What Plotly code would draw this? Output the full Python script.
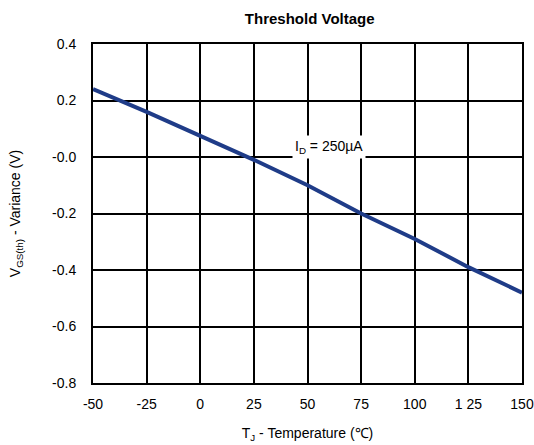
import plotly.graph_objects as go

temps = [-50, -25, 0, 25, 50, 75, 100, 125, 150]
vgs_var = [0.24, 0.16, 0.075, -0.01, -0.10, -0.20, -0.29, -0.39, -0.48]
x_ticks = [-50, -25, 0, 25, 50, 75, 100, 125, 150]
x_labels = ["-50", "-25", "0", "25", "50", "75", "100", "1 25", "150"]
y_ticks = [0.4, 0.2, 0.0, -0.2, -0.4, -0.6, -0.8]
y_labels = ["0.4", "0.2", "-0.0", "-0.2", "-0.4", "-0.6", "-0.8"]

font = "Liberation Sans, Arial, sans-serif"

fig = go.Figure()
fig.add_trace(go.Scatter(x=temps, y=vgs_var, mode="lines",
                         line=dict(color="#1f3c88", width=4), showlegend=False))

fig.add_annotation(x=60, y=0.035, text="I<sub>D</sub> = 250µA", showarrow=False,
                   font=dict(family=font, size=14, color="black"),
                   bgcolor="white", borderpad=2)

fig.update_layout(
    width=534, height=445,
    margin=dict(l=93, r=12, t=44, b=62, autoexpand=False),
    paper_bgcolor="white", plot_bgcolor="white",
    title=dict(text="<b>Threshold Voltage</b>", x=0.58, xanchor="center", y=0.957, yanchor="middle",
               font=dict(family=font, size=15, color="black")),
    font=dict(family=font, size=14, color="black"),
)
fig.update_xaxes(range=[-50, 150], tickvals=x_ticks, ticktext=x_labels, automargin=False,
                 showgrid=True, gridcolor="black", gridwidth=2,
                 showline=True, linecolor="black", linewidth=2, mirror=True,
                 zeroline=False, ticks="outside", ticklen=7, tickcolor="rgba(0,0,0,0)",
                 title=dict(text="T<sub>J</sub> - Temperature (℃)", font=dict(size=14), standoff=17))
fig.update_yaxes(range=[-0.8, 0.4], tickvals=y_ticks, ticktext=y_labels, automargin=False,
                 showgrid=True, gridcolor="black", gridwidth=2,
                 showline=True, linecolor="black", linewidth=2, mirror=True,
                 zeroline=False, ticks="outside", ticklen=12, tickcolor="rgba(0,0,0,0)",
                 title=dict(text="V<sub>GS(th)</sub> - Variance (V)", font=dict(size=14), standoff=28))

fig.write_html("out.html", config={"displayModeBar": False},
               post_script="document.body.style.margin='0';")
